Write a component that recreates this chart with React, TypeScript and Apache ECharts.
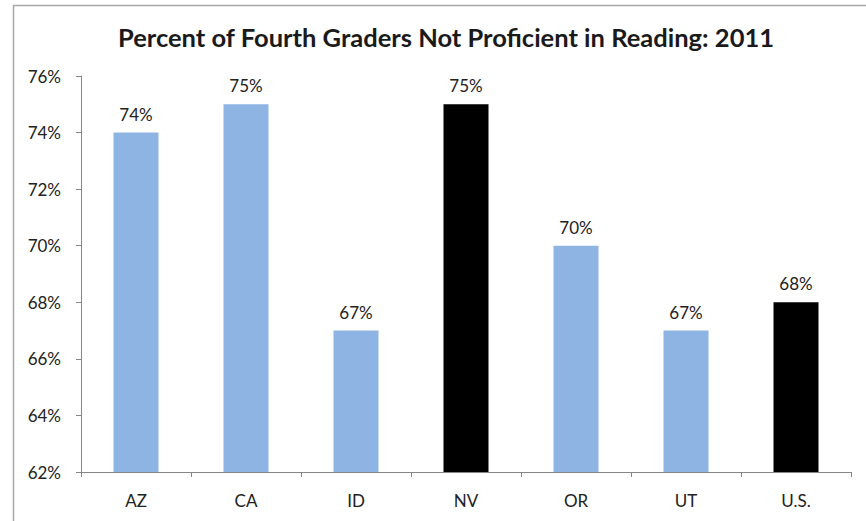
import React, { useEffect, useRef } from "react";
import * as echarts from "echarts";

const categories = ["AZ", "CA", "ID", "NV", "OR", "UT", "U.S."];
const values = [74, 75, 67, 75, 70, 67, 68];
const barColors = ["#8eb4e3", "#8eb4e3", "#8eb4e3", "#000000", "#8eb4e3", "#8eb4e3", "#000000"];
const yTicks = { min: 62, max: 76, interval: 2 };
const titleText = "Percent of Fourth Graders Not Proficient in Reading: 2011";

export default function App() {
  const ref = useRef<HTMLDivElement>(null);
  useEffect(() => {
    if (!ref.current) return;
    const chart = echarts.init(ref.current, null, { renderer: "svg" });
    const font = "Lato";
    chart.setOption({
      animation: false,
      backgroundColor: "#ffffff",
      title: {
        text: titleText,
        left: 441,
        textAlign: "center",
        top: 19,
        textStyle: { fontFamily: font, fontWeight: "bold", fontSize: 25.5, color: "#1a1a1a" },
      },
      graphic: [
        {
          type: "rect",
          shape: { x: 13.5, y: 5.5, width: 1000, height: 1000 },
          style: { fill: "none", stroke: "#a6a6a6", lineWidth: 1.5 },
          silent: true,
        },
      ],
      grid: { left: 81, right: 15, top: 76, bottom: 49 },
      xAxis: {
        type: "category",
        data: categories,
        axisLine: { lineStyle: { color: "#868686", width: 1 } },
        axisTick: { show: true, alignWithLabel: false, length: 5, lineStyle: { color: "#868686" } },
        axisLabel: { fontFamily: font, fontSize: 17, color: "#222", margin: 20 },
      },
      yAxis: {
        type: "value",
        min: yTicks.min,
        max: yTicks.max,
        interval: yTicks.interval,
        axisLine: { show: true, lineStyle: { color: "#868686", width: 1 } },
        axisTick: { show: true, length: 5, lineStyle: { color: "#868686" } },
        splitLine: { show: false },
        axisLabel: { fontFamily: font, fontSize: 17, color: "#222", margin: 20, formatter: "{value}%" },
      },
      series: [
        {
          type: "bar",
          data: values.map((v, i) => ({ value: v, itemStyle: { color: barColors[i] } })),
          barWidth: 45,
          label: {
            show: true,
            position: "top",
            distance: 10,
            formatter: "{c}%",
            fontFamily: font,
            fontSize: 17,
            color: "#222",
          },
        },
      ],
    });
    return () => chart.dispose();
  }, []);
  return <div ref={ref} style={{ width: 866, height: 521, position: "absolute", left: 0, top: 0 }} />;
}
